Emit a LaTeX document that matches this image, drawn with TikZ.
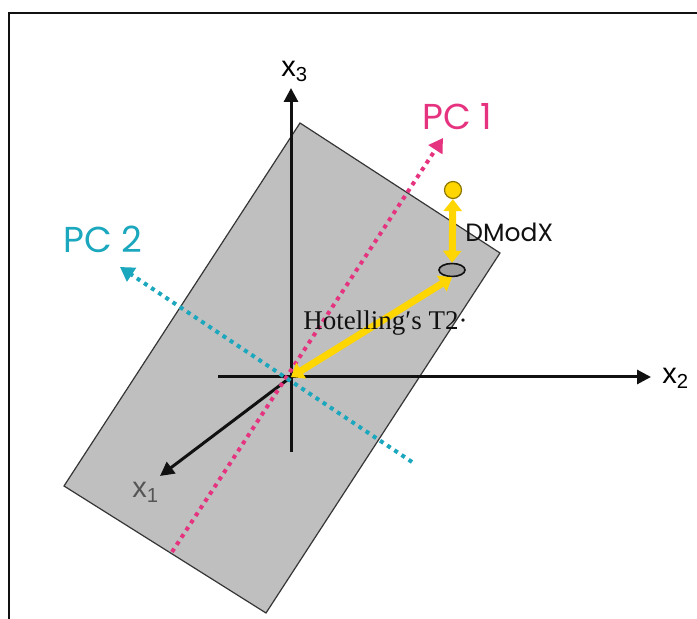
\documentclass[tikz,border=0pt]{standalone}
\usepackage{fontspec}
\setmainfont{Liberation Sans}
\newfontfamily\geofont{Poppins}
\newfontfamily\serfont{Liberation Serif}
\usetikzlibrary{arrows.meta,shapes.geometric}
\definecolor{ink}{HTML}{111111}
\definecolor{plane}{HTML}{BFBFBF}
\definecolor{pcOne}{HTML}{E6337F}
\definecolor{pcTwo}{HTML}{1BA7BD}
\definecolor{gold}{HTML}{FFD600}
\definecolor{dimgray}{HTML}{555555}
\tikzset{
  axis/.style={draw=ink, line width=1.5pt, -{Triangle[length=7pt, width=7pt]}},
  pcaxis/.style={line width=2pt, dash pattern=on 2pt off 2.3pt, -{Triangle[length=7pt, width=8pt]}},
  yarrow/.style={draw=gold, line width=3.5pt, {Triangle[length=6pt, width=9pt]}-{Triangle[length=6pt, width=9pt]}},
  lbl/.style={inner sep=0pt, anchor=base west},
  axlbl/.style={lbl, font=\fontsize{14.5}{16}\selectfont},
  pclbl/.style={lbl, font=\geofont\fontsize{18}{20}\selectfont},
}

\begin{document}
\begin{tikzpicture}[x=0.5pt, y=-0.5pt]
\useasboundingbox (0,0) rectangle (697,619);
\draw[ink, line width=1pt] (9,619) -- (9,13) -- (697,13);
% plane of the model
\coordinate (pt) at (300,123);
\coordinate (pr) at (500,253);
\coordinate (pb) at (266,613);
\coordinate (pl) at (64,486);
\filldraw[fill=plane, draw=ink!85, line width=0.6pt] (pt) -- (pr) -- (pb) -- (pl) -- cycle;
% axes
\coordinate (O) at (291,377);
\coordinate (x3lo) at (291,452);
\coordinate (x3hi) at (291,88);
\coordinate (x2lo) at (218,377);
\coordinate (x2hi) at (651,377);
\coordinate (x1hi) at (160,476);
\draw[axis] (x3lo) -- (x3hi);
\draw[axis] (x2lo) -- (x2hi);
\draw[axis] (O) -- (x1hi);
\node[axlbl] (x3) at (281,77) {x\textsubscript{3}};
\node[axlbl] (x2) at (662,384) {x\textsubscript{2}};
\node[axlbl, text=dimgray] (x1) at (132,498) {x\textsubscript{1}};
% principal components
\coordinate (pc1lo) at (172,552);
\coordinate (pc1hi) at (443,138);
\coordinate (pc2lo) at (412,462);
\coordinate (pc2hi) at (120,267);
\draw[pcaxis, pcOne] (pc1lo) -- (pc1hi);
\draw[pcaxis, pcTwo] (pc2lo) -- (pc2hi);
\node[pclbl, text=pcOne] (pc1) at (422,130) {PC 1};
\node[pclbl, text=pcTwo] (pc2) at (63,253) {PC 2};
% observation and its projection
\node[ellipse, fill=gray!75, draw=ink, line width=0.8pt, minimum width=13pt, minimum height=6.5pt, inner sep=0pt] (proj) at (452,270) {};
\node[circle, fill=gold, draw=gold!55!black, line width=0.6pt, minimum size=8.5pt, inner sep=0pt] (obs) at (453,190) {};
\draw[yarrow] (O) -- (proj.south);
\draw[yarrow] (obs) -- (proj);
\node[lbl, font=\geofont\fontsize{12.5}{14}\selectfont, text=ink] (dmodx) at (465,242) {DModX};
\node[lbl, font=\serfont\fontsize{13.5}{15}\selectfont, text=ink] (t2) at (303,330) {Hotelling′s T2·};
\end{tikzpicture}
\end{document}
